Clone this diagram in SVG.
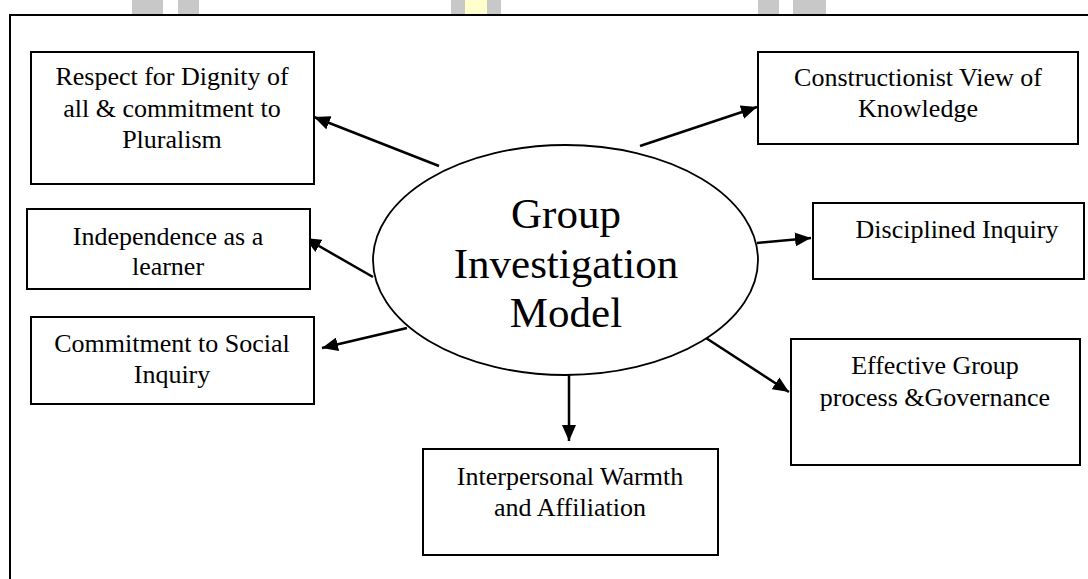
<svg xmlns="http://www.w3.org/2000/svg" width="1088" height="579" viewBox="0 0 1088 579">
<style>
.box{fill:#fff;stroke:#000;stroke-width:2}
.t{font-family:"Liberation Serif","Times New Roman",serif;font-size:26px;fill:#000;text-anchor:middle}
.big{font-family:"Liberation Serif","Times New Roman",serif;font-size:43px;fill:#000;text-anchor:middle}
.c{stroke:#000;stroke-width:2.5;fill:none;marker-end:url(#ah)}
.wm{fill:#c8c8c8}
</style>
<defs>
<marker id="ah" viewBox="0 0 16 14" refX="16" refY="7" markerWidth="16" markerHeight="14" markerUnits="userSpaceOnUse" orient="auto">
<path d="M0,0 L16,7 L0,14 z" fill="#000"/>
</marker>
</defs>
<rect width="1088" height="579" fill="#fff"/>
<g id="watermark">
<rect class="wm" x="132" y="0" width="31" height="14"/>
<rect class="wm" x="178" y="0" width="21" height="14"/>
<rect class="wm" x="451" y="0" width="14" height="14"/>
<rect x="465" y="0" width="22" height="14" fill="#ffffcc"/>
<rect class="wm" x="487" y="0" width="14" height="14"/>
<rect class="wm" x="758" y="0" width="21" height="14"/>
<rect class="wm" x="793" y="0" width="33" height="14"/>
</g>
<path id="frame" d="M10,579 V15 H1088" fill="none" stroke="#000" stroke-width="2"/>
<g id="connectors">
<line class="c" x1="439" y1="166" x2="314" y2="117"/>
<line class="c" x1="640" y1="146" x2="757" y2="107"/>
<line class="c" x1="373" y1="277" x2="305" y2="238"/>
<line class="c" x1="757" y1="243" x2="811" y2="238"/>
<line class="c" x1="407" y1="328" x2="322" y2="348"/>
<line class="c" x1="706" y1="338" x2="789" y2="392"/>
<line class="c" x1="569" y1="375" x2="569" y2="441"/>
</g>
<g id="center">
<ellipse cx="565.5" cy="260" rx="192.5" ry="115" fill="#fff" stroke="#000" stroke-width="1.8"/>
<text class="big" x="566" y="228">Group</text>
<text class="big" x="566" y="278">Investigation</text>
<text class="big" x="566" y="327">Model</text>
</g>
<g id="respect">
<rect class="box" x="31" y="52" width="283" height="132"/>
<text class="t" x="172" y="85">Respect for Dignity of</text>
<text class="t" x="172" y="117">all &amp; commitment to</text>
<text class="t" x="172" y="148">Pluralism</text>
</g>
<g id="constructionist">
<rect class="box" x="758" y="52" width="320" height="92"/>
<text class="t" x="918" y="86">Constructionist View of</text>
<text class="t" x="918" y="117">Knowledge</text>
</g>
<g id="independence">
<rect class="box" x="27" y="209" width="283" height="80"/>
<text class="t" x="168" y="245">Independence as a</text>
<text class="t" x="168" y="275">learner</text>
</g>
<g id="disciplined">
<rect class="box" x="813" y="203" width="271" height="76"/>
<text class="t" x="957" y="238">Disciplined Inquiry</text>
</g>
<g id="commitment">
<rect class="box" x="31" y="317" width="283" height="87"/>
<text class="t" x="172" y="352">Commitment to Social</text>
<text class="t" x="172" y="383">Inquiry</text>
</g>
<g id="effective">
<rect class="box" x="791" y="339" width="289" height="126"/>
<text class="t" x="935" y="374">Effective Group</text>
<text class="t" x="935" y="406">process &amp;Governance</text>
</g>
<g id="interpersonal">
<rect class="box" x="423" y="449" width="295" height="106"/>
<text class="t" x="570" y="485">Interpersonal Warmth</text>
<text class="t" x="570" y="516">and Affiliation</text>
</g>
</svg>
